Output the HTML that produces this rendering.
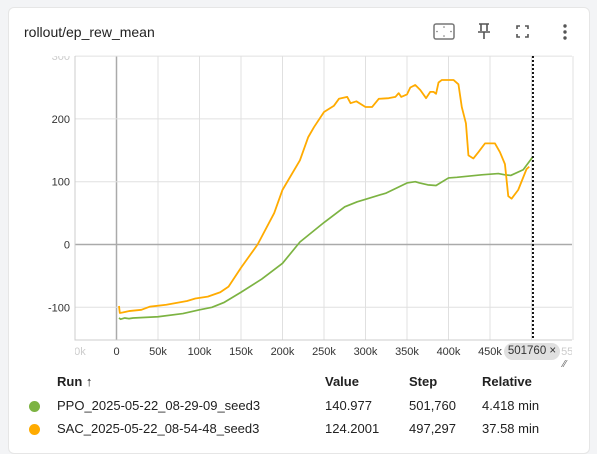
<!DOCTYPE html>
<html><head><meta charset="utf-8"><style>
body{margin:0;width:597px;height:445px;background:#f3f4f6;font-family:"Liberation Sans",sans-serif;overflow:hidden;position:relative}
#card{position:absolute;left:8px;top:7px;width:580px;height:445px;background:#fff;border:1px solid #e6e6e6;border-radius:6px}
.t{position:absolute;font-size:13px;color:#212121}
.h{font-weight:bold}
</style></head><body>
<div id="card"></div>
<div class="t" style="left:24px;top:24px;font-size:14px">rollout/ep_rew_mean</div>
<svg style="position:absolute;left:0;top:0" width="597" height="445">
<g><rect x="434" y="24" width="20" height="15" rx="2" fill="none" stroke="#777" stroke-width="1.5"/><circle cx="444" cy="27" r="0.8" fill="#777"/><circle cx="444" cy="36" r="0.8" fill="#777"/><circle cx="437" cy="31.5" r="0.8" fill="#777"/><circle cx="451" cy="31.5" r="0.8" fill="#777"/></g>
<g stroke="#555" stroke-width="1.6" fill="none"><path d="M479 24h10M481 24v7M487 24v7M478 32h12M484 32v7"/></g>
<g stroke="#555" stroke-width="1.6" fill="none"><path d="M517 29v-3h3M525 26h3v3M528 34v3h-3M520 37h-3v-3"/></g>
<g fill="#555"><circle cx="565" cy="26" r="1.7"/><circle cx="565" cy="32" r="1.7"/><circle cx="565" cy="38" r="1.7"/></g>
</svg>
<svg id="chart" style="position:absolute;left:0;top:0" width="597" height="445">
<defs><clipPath id="cx"><rect x="75" y="340" width="497" height="30"/></clipPath><clipPath id="cy"><rect x="0" y="56" width="75" height="300"/></clipPath></defs>
</svg>
<div style="position:absolute;left:504px;top:343px;width:56px;height:17px;border-radius:9px;background:#e0e0e0;font-size:11.5px;line-height:17px;text-align:center;color:#333">501760 ×</div>
<div style="position:absolute;left:563px;top:359px;color:#666;font-size:10px">⁄⁄</div>
<div class="t h" style="left:57px;top:374px">Run ↑</div>
<div class="t h" style="left:325px;top:374px">Value</div>
<div class="t h" style="left:409px;top:374px">Step</div>
<div class="t h" style="left:482px;top:374px">Relative</div>
<div style="position:absolute;left:29px;top:401px;width:11px;height:11px;border-radius:50%;background:#7cb342"></div>
<div class="t" style="left:57px;top:398px">PPO_2025-05-22_08-29-09_seed3</div>
<div class="t" style="left:325px;top:398px">140.977</div>
<div class="t" style="left:409px;top:398px">501,760</div>
<div class="t" style="left:482px;top:398px">4.418 min</div>
<div style="position:absolute;left:29px;top:424px;width:11px;height:11px;border-radius:50%;background:#ffab00"></div>
<div class="t" style="left:57px;top:421px">SAC_2025-05-22_08-54-48_seed3</div>
<div class="t" style="left:325px;top:421px">124.2001</div>
<div class="t" style="left:409px;top:421px">497,297</div>
<div class="t" style="left:482px;top:421px">37.58 min</div>
<script>
const xTicks=[-50000,0,50000,100000,150000,200000,250000,300000,350000,400000,450000,500000,550000];
const xTickLabels=['-50k','0','50k','100k','150k','200k','250k','300k','350k','400k','450k','500k','550k'];
const yTicks=[-100,0,100,200,300];
const yTickLabels=['-100','0','100','200','300'];
const ppoSteps=[3000,5000,10000,15000,20000,50000,80000,100000,115000,130000,150000,175000,200000,221000,250000,275000,290000,300000,325000,350000,360000,365000,375000,385000,400000,410000,425000,440000,450000,460000,468000,475000,490000,501760];
const ppoValues=[-117,-119,-117,-118,-117,-115,-110,-104,-100,-92,-76,-55,-30,4,35,60,68,72,82,98,100,98,95,94,106,107,109,111,112,113,111,110,119,140];
const sacSteps=[3000,4000,8000,15000,30000,40000,60000,85000,95000,110000,125000,135000,150000,170000,190000,200000,221000,231000,238000,250000,262000,268000,278000,282000,289000,300000,308000,316000,328000,336000,340000,343000,350000,354000,360000,366000,373000,378000,382000,385000,388000,392000,406000,412000,416000,421000,424000,430000,436000,444000,456000,462000,468000,472000,476000,484000,494000,497297];
const sacValues=[-98,-109,-108,-106,-104,-99,-96,-90,-86,-83,-76,-67,-37,0,50,87,134,171,187,211,221,232,235,225,228,219,219,232,233,235,241,235,239,250,254,246,233,243,243,240,258,262,262,255,219,193,142,137,147,161,161,147,128,77,73,87,120,124];
const X0=116.5,PX=41.5/50000,Y0=244.5,PY=0.628;
const L=75,R=572,T=56,B=340;
const sx=v=>X0+v*PX, sy=v=>Y0-v*PY;
const ns='http://www.w3.org/2000/svg', svg=document.getElementById('chart');
function mk(t,a){const e=document.createElementNS(ns,t);for(const k in a)e.setAttribute(k,a[k]);svg.appendChild(e);return e;}
xTicks.forEach((v,i)=>{const x=sx(v);
 const g=mk('line',{x1:x,x2:x,y1:T,y2:B,stroke:v===0?'#aaa':'#e0e0e0','stroke-width':v===0?1.5:1});
 
 
 const t=mk('text',{x:x,y:355,'text-anchor':'middle','font-size':11,fill:(v<0||v>500000)?'#ccc':'#333','font-family':'Liberation Sans','clip-path':'url(#cx)'});
 t.textContent=xTickLabels[i];
 
 });
yTicks.forEach((v,i)=>{const y=sy(v);
 const g=mk('line',{x1:L,x2:R,y1:y,y2:y,stroke:v===0?'#aaa':'#e0e0e0','stroke-width':v===0?1.5:1});
 
 
 const t=mk('text',{x:70,y:y+4,'text-anchor':'end','font-size':11,fill:v===300?'#ccc':'#333','font-family':'Liberation Sans','clip-path':'url(#cy)'});
 t.textContent=yTickLabels[i];
 
 });
const ax=mk('path',{d:`M${L} ${T}V${B}H${R}`,stroke:'#ccc',fill:'none'});


const p1=mk('polyline',{points:ppoSteps.map((s,i)=>sx(s)+','+sy(ppoValues[i])).join(' '),fill:'none',stroke:'#7cb342','stroke-width':1.7,'stroke-linejoin':'round'});


const p2=mk('polyline',{points:sacSteps.map((s,i)=>sx(s)+','+sy(sacValues[i])).join(' '),fill:'none',stroke:'#ffab00','stroke-width':1.8,'stroke-linejoin':'round'});


const cx=sx(501760);
const c=mk('line',{x1:cx,x2:cx,y1:T,y2:B,stroke:'#111','stroke-width':2,'stroke-dasharray':'2,2'});


</script>
</body></html>
